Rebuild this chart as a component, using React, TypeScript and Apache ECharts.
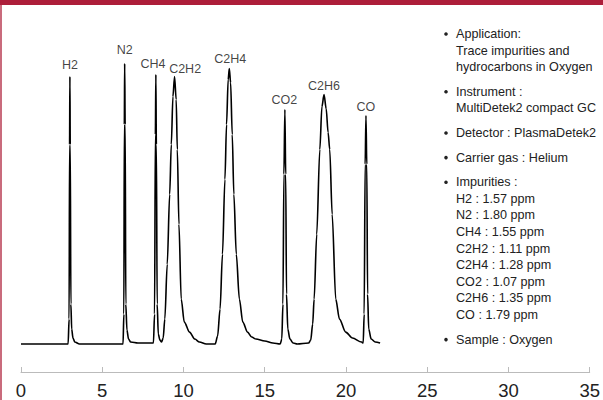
import React, { useEffect, useRef } from "react";
import * as echarts from "echarts";

// Chromatogram trace: retention time (min) and signal (arbitrary units)
const traceTime = [
  0, 2.9, 2.96, 2.99, 3.01, 3.03, 3.07, 3.12, 3.2, 3.31, 3.6,
  6.28, 6.33, 6.36, 6.38, 6.41, 6.45, 6.52, 6.62, 6.75, 7.2,
  8.15, 8.22, 8.27, 8.3, 8.33, 8.38, 8.45, 8.55, 8.65,
  8.75, 8.85, 9.0, 9.15, 9.25, 9.35, 9.45, 9.55, 9.62, 9.72, 9.86, 10.05, 10.37, 10.7, 10.98, 11.4,
  11.95, 12.1, 12.25, 12.4, 12.55, 12.65, 12.75, 12.82, 12.9, 13.0, 13.1, 13.25, 13.44, 13.65, 13.94, 14.2, 14.46, 15.0, 15.5, 15.95,
  16.05, 16.12, 16.18, 16.24, 16.29, 16.34, 16.42, 16.55, 16.75, 17.0,
  17.7, 17.83, 17.95, 18.04, 18.2, 18.39, 18.52, 18.65, 18.78, 18.9, 19.0, 19.15, 19.37, 19.6, 19.98, 20.4, 20.96,
  21.06, 21.12, 21.18, 21.23, 21.28, 21.33, 21.4, 21.55, 21.8, 22.1,
];
const traceSignal = [
  0, 0, 25, 200, 268, 200, 40, 15, 6, 2, 0,
  0, 30, 220, 281, 220, 40, 14, 5, 2, 1,
  1, 30, 210, 270, 200, 40, 10, 4, 2,
  6, 25, 80, 150, 200, 248, 268, 245, 195, 120, 45, 22, 12, 5, 2, 0,
  0, 8, 35, 90, 165, 220, 265, 276, 262, 210, 150, 90, 45, 22, 12, 7, 5, 3, 1, 0,
  5, 40, 170, 235, 170, 50, 15, 5, 1, 0,
  1, 4, 20, 45, 110, 195, 238, 250, 236, 212, 195, 130, 45, 25, 12, 6, 2,
  1, 30, 180, 229, 180, 50, 15, 5, 2, 1,
];

// Peak labels
const peakNames = ["H2", "N2", "CH4", "C2H2", "C2H4", "CO2", "C2H6", "CO"];
const labelTimes = [3.01, 6.38, 8.12, 10.1, 12.88, 16.2, 18.65, 21.23];
const labelSignals = [280, 295, 281, 276, 286, 245, 259, 238];

// X-axis ticks
const xMin = 0;
const xMax = 35;
const xStep = 5;

// Info panel text
const infoItems: string[][] = [
  ["Application:", "Trace impurities and", "hydrocarbons in Oxygen"],
  ["Instrument :", "MultiDetek2 compact GC"],
  ["Detector : PlasmaDetek2"],
  ["Carrier gas : Helium"],
  [
    "Impurities :",
    "H2 : 1.57 ppm",
    "N2 : 1.80 ppm",
    "CH4 : 1.55 ppm",
    "C2H2 : 1.11 ppm",
    "C2H4 : 1.28 ppm",
    "CO2 : 1.07 ppm",
    "C2H6 : 1.35 ppm",
    "CO : 1.79 ppm",
  ],
  ["Sample : Oxygen"],
];

export default function App() {
  const ref = useRef<HTMLDivElement>(null);

  useEffect(() => {
    if (!ref.current) return;
    const chart = echarts.init(ref.current, null, { renderer: "svg" });

    const graphics: any[] = [
      { type: "rect", shape: { x: 0, y: 0, width: 603, height: 5 }, style: { fill: "#AD1E3A" } },
      { type: "rect", shape: { x: 0, y: 5, width: 2, height: 395 }, style: { fill: "#C96B7C" } },
    ];
    const lineH = 16.6;
    const itemGap = 24.6;
    let y = 34;
    infoItems.forEach((item) => {
      graphics.push({
        type: "circle",
        shape: { cx: 446, cy: y, r: 1.8 },
        style: { fill: "#222" },
      });
      item.forEach((line, i) => {
        graphics.push({
          type: "text",
          x: 456,
          y,
          style: {
            text: line,
            fill: "#222",
            font: '12.6px "Liberation Sans", Arial, sans-serif',
            textVerticalAlign: "middle",
            textAlign: "left",
          },
        });
        if (i < item.length - 1) y += lineH;
      });
      y += itemGap;
    });

    chart.setOption({
      animation: false,
      grid: { left: 21, right: 11.5, top: 22.7, bottom: 27.3 },
      xAxis: {
        type: "value",
        min: xMin,
        max: xMax,
        interval: xStep,
        axisLine: { show: true, onZero: false, lineStyle: { color: "#BBBBBB", width: 1 } },
        axisTick: { show: true, inside: true, length: 5, lineStyle: { color: "#BBBBBB" } },
        splitLine: { show: false },
        axisLabel: {
          color: "#222",
          fontSize: 18.5,
          fontFamily: '"Liberation Sans", Arial, sans-serif',
          margin: 9,
        },
      },
      yAxis: {
        type: "value",
        min: -28,
        max: 322,
        show: false,
        splitLine: { show: false },
      },
      series: [
        {
          type: "line",
          data: traceTime.map((t, i) => [t, traceSignal[i]]),
          showSymbol: false,
          symbol: "none",
          smooth: 0.3,
          smoothMonotone: "x",
          lineStyle: { color: "#000", width: 1.6 },
          clip: false,
        },
        {
          type: "scatter",
          data: labelTimes.map((t, i) => ({ value: [t, labelSignals[i]], name: peakNames[i] })),
          symbolSize: 0,
          label: {
            show: true,
            position: "inside",
            formatter: (p: any) => p.name,
            color: "#111",
            fontSize: 12.5,
            fontFamily: '"Liberation Sans", Arial, sans-serif',
          },
        },
      ],
      graphic: graphics,
    });

    return () => chart.dispose();
  }, []);

  return (
    <div
      ref={ref}
      style={{ position: "fixed", left: 0, top: 0, width: 603, height: 400, background: "#fff" }}
    />
  );
}
